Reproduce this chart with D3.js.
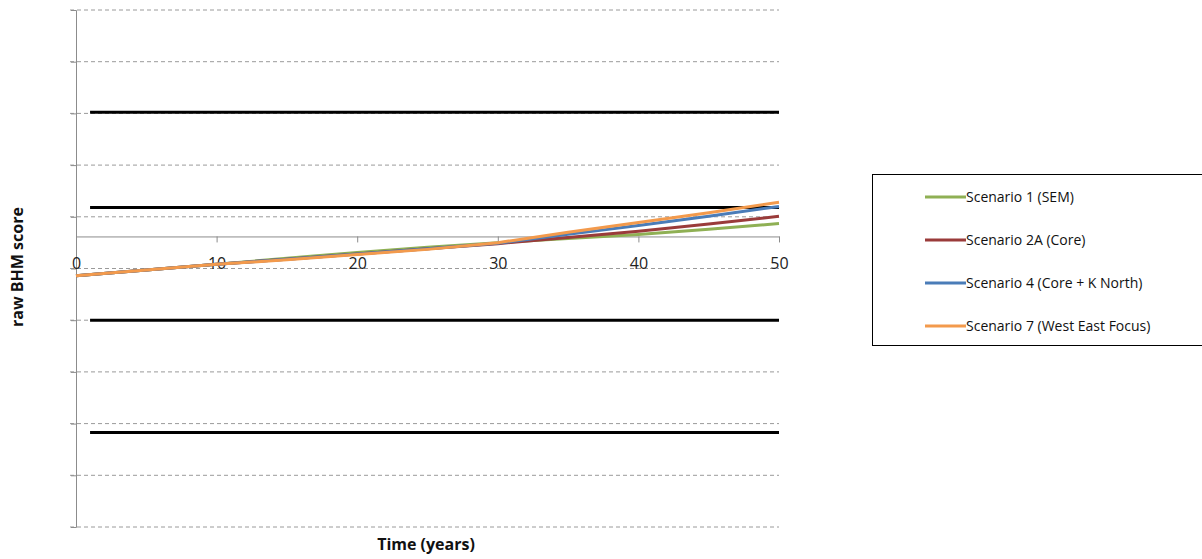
<!DOCTYPE html>
<html>
<head>
<meta charset="utf-8">
<script src="https://cdn.jsdelivr.net/npm/d3@7"></script>
<style>
  html, body { margin: 0; padding: 0; background: #fff; }
  svg { display: block; font-family: "Open Sans", sans-serif; }
</style>
</head>
<body>
<svg id="chart" width="1202" height="559"></svg>
<script>
// ---- data ----
const years = [0, 5, 10, 15, 20, 25, 30, 35, 40, 45, 50];
const seriesNames = ["Scenario 1 (SEM)", "Scenario 2A (Core)", "Scenario 4 (Core + K North)", "Scenario 7 (West East Focus)"];
const scenario1  = [-0.14, -0.03, 0.08, 0.20, 0.31, 0.41, 0.50, 0.58, 0.66, 0.76, 0.87];
const scenario2A = [-0.14, -0.03, 0.08, 0.18, 0.28, 0.38, 0.48, 0.60, 0.72, 0.86, 1.01];
const scenario4  = [-0.14, -0.03, 0.08, 0.18, 0.28, 0.38, 0.49, 0.66, 0.83, 1.01, 1.20];
const scenario7  = [-0.14, -0.03, 0.08, 0.17, 0.27, 0.37, 0.50, 0.70, 0.89, 1.08, 1.28];
const thresholdValues = [3.02, 1.18, -1.0, -3.17];
const thresholdSpan = [1, 50];
const xTicks = [0, 10, 20, 30, 40, 50];
const yGrid = [-5, -4, -3, -2, -1, 0, 1, 2, 3, 4, 5];
const xAxisCross = 0.62;
const colors = ["#8fb054", "#9a3b3a", "#4a7cb8", "#f39a4c"];

const allSeries = [scenario1, scenario2A, scenario4, scenario7];

const svg = d3.select("#chart");
const x = d3.scaleLinear().domain([0, 50]).range([76, 779]);
const y = d3.scaleLinear().domain([-5, 5]).range([527, 10]);

// gridlines (dashed)
svg.append("g").selectAll("line").data(yGrid).join("line")
  .attr("x1", 70).attr("x2", 779)
  .attr("y1", d => y(d)).attr("y2", d => y(d))
  .attr("stroke", "#9a9a9a").attr("stroke-width", 1)
  .attr("stroke-dasharray", "4,3");

// y axis
const yAxis = svg.append("g").attr("transform", `translate(${x(0)},0)`)
  .call(d3.axisLeft(y).tickValues(yGrid).tickSize(5).tickFormat(""));
yAxis.select(".domain").attr("stroke", "#8c8c8c");
yAxis.selectAll(".tick line").attr("stroke", "#8c8c8c");

// threshold lines
svg.append("g").selectAll("line").data(thresholdValues).join("line")
  .attr("x1", x(thresholdSpan[0])).attr("x2", x(thresholdSpan[1]))
  .attr("y1", d => y(d)).attr("y2", d => y(d))
  .attr("stroke", "#000").attr("stroke-width", 3);

// x axis
const xAxis = svg.append("g").attr("transform", `translate(0,${y(xAxisCross)})`)
  .call(d3.axisBottom(x).tickValues(xTicks).tickSize(6).tickSizeOuter(0).tickPadding(15));
xAxis.select(".domain").attr("stroke", "#8c8c8c");
xAxis.selectAll(".tick line").attr("stroke", "#8c8c8c");
xAxis.selectAll(".tick text")
  .attr("font-family", "Open Sans, sans-serif")
  .attr("font-size", 16).attr("fill", "#222");

// series lines
const line = d3.line().x((d, i) => x(years[i])).y(d => y(d));
svg.append("g").selectAll("path").data(allSeries).join("path")
  .attr("d", d => line(d))
  .attr("fill", "none")
  .attr("stroke", (d, i) => colors[i])
  .attr("stroke-width", 3)
  .attr("stroke-linejoin", "round");

// axis titles
svg.append("text").attr("x", 426).attr("y", 550)
  .attr("text-anchor", "middle").attr("font-weight", "bold").attr("font-size", 16)
  .attr("fill", "#111").text("Time (years)");
svg.append("text").attr("transform", "translate(23,267) rotate(-90)")
  .attr("text-anchor", "middle").attr("font-weight", "bold").attr("font-size", 16)
  .attr("fill", "#111").text("raw BHM score");

// legend
const lg = svg.append("g");
lg.append("rect").attr("x", 872.5).attr("y", 174.5).attr("width", 340).attr("height", 171)
  .attr("fill", "#fff").attr("stroke", "#000").attr("stroke-width", 1);
const legendY = d3.scalePoint().domain(seriesNames).range([197, 326]);
const items = lg.selectAll("g.item").data(seriesNames).join("g").attr("class", "item")
  .attr("transform", d => `translate(0,${legendY(d)})`);
items.append("line").attr("x1", 925).attr("x2", 966).attr("y1", 0).attr("y2", 0)
  .attr("stroke", (d, i) => colors[i]).attr("stroke-width", 3);
items.append("text").attr("x", 966).attr("y", 0).attr("dy", "0.35em")
  .attr("font-size", 14).attr("fill", "#111").text(d => d);
</script>
</body>
</html>
